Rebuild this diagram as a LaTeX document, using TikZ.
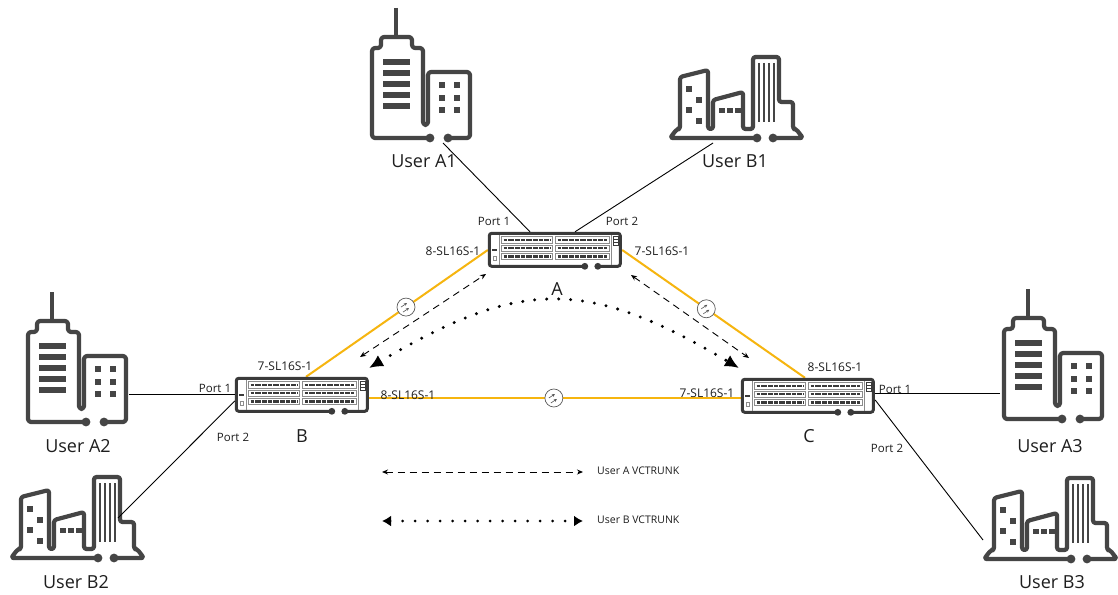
\documentclass[tikz,border=0pt]{standalone}
\usepackage{fontspec}
\setmainfont{Open Sans}
\usetikzlibrary{arrows.meta,calc}

\definecolor{iconcol}{HTML}{454545}
\definecolor{devcol}{HTML}{3A3A3A}
\definecolor{modcol}{HTML}{8C8C8C}
\definecolor{fibre}{HTML}{F6B50F}
\definecolor{fibgray}{HTML}{5A5A5A}
\definecolor{txt}{HTML}{1E1E1E}

\tikzset{
  iconline/.style={draw=iconcol, line width=4.2pt, line join=round, rounded corners=3pt},
  devnode/.style={rectangle, minimum width=134pt, minimum height=36pt, inner sep=0pt, fill=white},
  fibreline/.style={draw=fibre, line width=2pt},
  portline/.style={draw=black, line width=0.9pt},
  fiber/.style={circle, draw=fibgray, line width=0.7pt, fill=white, minimum size=18pt, inner sep=0pt,
    path picture={
      \draw[fibgray, line width=0.6pt, -{Stealth[length=3pt,width=3pt]}]
        ($(path picture bounding box.center)+(-5,0)$) -- ++(6,-4);
      \draw[fibgray, line width=0.6pt, -{Stealth[length=3pt,width=3pt]}]
        ($(path picture bounding box.center)+(-3,5)$) -- ++(6,-4);
    }},
  dasharrow/.style={draw=black, line width=0.9pt, dash pattern=on 7pt off 5pt,
    {Stealth[length=6pt,width=5pt]}-{Stealth[length=6pt,width=5pt]}},
  dotarrow/.style={draw=black, line width=3.3pt, line cap=round, dash pattern=on 0pt off 12pt,
    {Latex[length=14pt,width=13pt]}-{Latex[length=14pt,width=13pt]}},
  dotlegend/.style={draw=black, line width=3pt, line cap=round, dash pattern=on 0pt off 12.5pt,
    {Latex[length=9pt,width=11pt]}-{Latex[length=9pt,width=11pt]}},
  biglbl/.style={text=txt, inner sep=0pt, font=\fontsize{18}{18}\selectfont},
  portlbl/.style={text=txt, inner sep=0pt, font=\fontsize{11.5}{11.5}\selectfont},
  slbl/.style={text=txt, inner sep=0pt, font=\fontsize{12}{12}\selectfont},
  leglbl/.style={text=txt, inner sep=0pt, anchor=west, font=\fontsize{10.5}{10.5}\selectfont},
  % office tower with a small annex
  tallbldg/.pic={
    \draw[iconline] (70,133) -- (12,133) -- (12,43) -- (21,43) -- (21,32) -- (52,32) -- (52,43)
      -- (63,43) -- (63,120) -- (68,120) -- (68,67) -- (110,67) -- (110,133) -- (88,133);
    \draw[draw=iconcol, line width=4.2pt] (36,3) -- (36,32);
    \fill[iconcol] (70,133) circle (4.4) (88,133) circle (4.4);
    \foreach \yy in {57,68,79,90,101} \fill[iconcol] (23,\yy-2.6) rectangle (50,\yy+2.6);
    \foreach \xx in {82,97} \foreach \yy in {80,93,105} \fill[iconcol] (\xx-3.2,\yy-3.2) rectangle (\xx+3.2,\yy+3.2);
  },
  % low-rise block of three buildings
  lowbldg/.pic={
    \draw[iconline, rounded corners=2.5pt] (97,98) -- (10,98) -- (17,89) -- (20,89) -- (20,37)
      -- (48,30) -- (48,89) -- (53,89) -- (53,60) -- (83,52) -- (83,89) -- (93,89) -- (93,17)
      -- (119,17) -- (119,62) -- (133,62) -- (133,89) -- (136,89) -- (143,98) -- (113,98);
    \fill[iconcol] (97,98) circle (4.4) (113,98) circle (4.4);
    \foreach \xx/\yy in {29/49,39/60,29/70,39/81} \fill[iconcol] (\xx-3.2,\yy-3.2) rectangle (\xx+3.2,\yy+3.2);
    \foreach \xx in {59,67,75} \fill[iconcol] (\xx,68) rectangle (\xx+6,73);
    \foreach \xx in {99,104,109,114} \draw[iconcol, line width=2pt] (\xx,23) -- (\xx,82);
  },
  % transmission equipment front panel
  device/.pic={
    \draw[draw=devcol, line width=3pt, rounded corners=2.5pt] (97,34.5) -- (1.5,34.5) -- (1.5,1.5)
      -- (132.5,1.5) -- (132.5,34.5) -- (110,34.5);
    \fill[devcol] (97,34.5) circle (3.4) (110,34.5) circle (3.4);
    \draw[modcol, line width=0.6pt] (11.5,3) -- (11.5,33) (123,3) -- (123,33);
    \foreach \yy in {5,13.3,21.6} {
      \draw[modcol, line width=0.8pt] (13.5,\yy) rectangle (65,\yy+6.3);
      \draw[modcol, line width=0.8pt] (67.5,\yy) rectangle (121.5,\yy+6.3);
      \draw[devcol, line width=2.2pt, dash pattern=on 3pt off 1.8pt on 6pt off 1pt on 4.5pt off 1pt on 4.5pt off 1pt on 6pt off 1pt on 4.5pt off 1pt on 4.5pt off 1pt on 5pt off 1pt]
        (15.8,\yy+3.15) -- (62.8,\yy+3.15);
      \draw[devcol, line width=2.2pt, dash pattern=on 3pt off 1.8pt on 6pt off 1pt on 4.5pt off 1pt on 4.5pt off 1pt on 6pt off 1pt on 4.5pt off 1pt on 4.5pt off 1pt on 5pt off 1pt on 5pt off 1pt]
        (69.8,\yy+3.15) -- (119.2,\yy+3.15);
    }
    \fill[devcol] (4,17) rectangle (9.5,19.5);
    \draw[modcol, line width=0.5pt] (5,24.5) rectangle (8.5,28.5);
    \draw[devcol, line width=0.6pt] (125,4) rectangle (130,13) (125,7) -- (130,7) (125,10) -- (130,10);
  }
}

\begin{document}
\begin{tikzpicture}[x=1pt,y=-1pt]
  \useasboundingbox (0,0) rectangle (1118,594);
  \fill[white] (0,0) rectangle (1118,594);

  % user sites
  \pic at (360,5) {tallbldg};
  \pic at (660,40) {lowbldg};
  \pic at (16,289) {tallbldg};
  \pic at (1,460) {lowbldg};
  \pic at (992,286) {tallbldg};
  \pic at (974,461) {lowbldg};

  \node[biglbl] (la1) at (424,161) {User A1};
  \node[biglbl] (lb1) at (735,161) {User B1};
  \node[biglbl] (la2) at (78,446) {User A2};
  \node[biglbl] (lb2) at (76,582) {User B2};
  \node[biglbl] (la3) at (1050,446) {User A3};
  \node[biglbl] (lb3) at (1052,582) {User B3};

  % network elements
  \node[devnode] (A) at (555,250) {};
  \node[devnode] (B) at (302,395) {};
  \node[devnode] (C) at (808,396) {};

  % fibre links
  \draw[fibreline] (A.west) -- ($(B.north)+(4,0)$) node[fiber, pos=0.45] (f1) {};
  \draw[fibreline] (A.east) -- ($(C.north)+(-3,0)$) node[fiber, pos=0.46] (f2) {};
  \draw[fibreline] ($(B.east)+(0,3)$) -- ($(C.west)+(0,2)$) node[fiber, pos=0.497] (f3) {};

  \pic at (A.north west) {device};
  \pic at (B.north west) {device};
  \pic at (C.north west) {device};

  \node[biglbl] (na) at (557,289) {A};
  \node[biglbl] (nb) at (302,436) {B};
  \node[biglbl] (nc) at (809,436) {C};

  % access links
  \coordinate (pa1) at (443,143);
  \coordinate (pb1) at (713,143);
  \coordinate (pa2) at (129,394);
  \coordinate (pb2) at (118,518);
  \coordinate (pa3) at (1000,393);
  \coordinate (pb3) at (983,540);
  \draw[portline] (pa1) -- ($(A.north)+(-25,0)$);
  \draw[portline] (pb1) -- ($(A.north)+(20,0)$);
  \draw[portline] (pa2) -- (pa2 -| B.west);
  \draw[portline] (pb2) -- ($(B.west)+(0,6)$);
  \draw[portline] (pa3) -- (pa3 -| C.east);
  \draw[portline] (pb3) -- ($(C.east)+(0,4)$);

  % port and board labels
  \node[portlbl] (pl1) at (494,221) {Port 1};
  \node[portlbl] (pl2) at (622,221) {Port 2};
  \node[portlbl] (pl3) at (215,388) {Port 1};
  \node[portlbl] (pl4) at (233,437) {Port 2};
  \node[portlbl] (pl5) at (895,389) {Port 1};
  \node[portlbl] (pl6) at (887,448) {Port 2};

  \node[slbl] (s1) at (453,251) {8-SL16S-1};
  \node[slbl] (s2) at (662,251) {7-SL16S-1};
  \node[slbl] (s3) at (285,366) {7-SL16S-1};
  \node[slbl] (s4) at (408,395) {8-SL16S-1};
  \node[slbl] (s5) at (707,393) {7-SL16S-1};
  \node[slbl] (s6) at (835,367) {8-SL16S-1};

  % VC trunks
  \coordinate (dl1) at (360,357);
  \coordinate (dl2) at (486,274);
  \coordinate (dr1) at (631,275);
  \coordinate (dr2) at (749,358);
  \draw[dasharrow] (dl1) -- (dl2);
  \draw[dasharrow] (dr1) -- (dr2);

  \coordinate (bl) at (369,368);
  \coordinate (br) at (739,368);
  \draw[dotarrow] (bl) .. controls (521,278) and (587,278) .. (br);

  % legend
  \coordinate (ka1) at (382,472);
  \coordinate (ka2) at (583,472);
  \draw[dasharrow] (ka1) -- (ka2);
  \node[leglbl] (ta) at (597,471) {User A VCTRUNK};

  \coordinate (kb1) at (382,521);
  \coordinate (kb2) at (583,521);
  \draw[dotlegend] (kb1) -- (kb2);
  \node[leglbl] (tb) at (597,520) {User B VCTRUNK};
\end{tikzpicture}
\end{document}
